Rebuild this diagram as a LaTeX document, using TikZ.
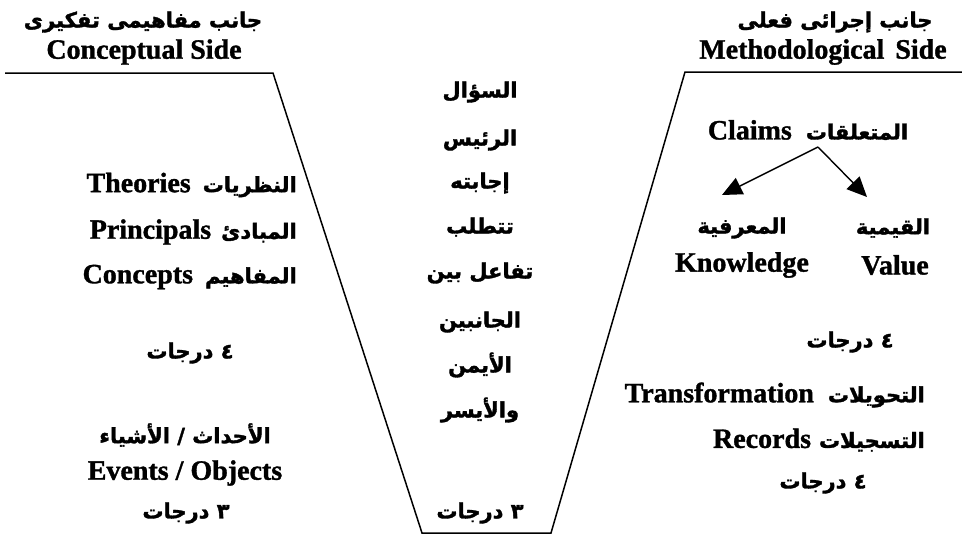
\documentclass[tikz,border=0pt]{standalone}
\usepackage{fontspec}
\setmainfont{Liberation Serif}[BoldFeatures={FakeBold=1.2}]
\newfontfamily\arabicfont[Script=Arabic, BoldFeatures={FakeBold=1.6}]{DejaVu Sans}
\TeXXeTstate=1
\usetikzlibrary{arrows.meta}
\newcommand{\AR}[1]{{\arabicfont\bfseries\fontsize{21}{24}\selectfont\beginR #1\endR}}
\newcommand{\EN}[1]{{\bfseries\fontsize{28}{30}\selectfont #1}}
\begin{document}
\begin{tikzpicture}[x=1pt,y=-1pt,
  txt/.style={inner sep=0pt},
  vline/.style={line width=1.5pt, line join=miter},
  arr/.style={line width=1.4pt, -{Triangle[length=20pt,width=18pt]}}]
\useasboundingbox (0,0) rectangle (962,538);
% V outline
\draw[vline] (5,73) -- (273,73) -- (422,533) -- (551,533) -- (685,72) -- (962,72);
% headers
\node[txt] (lh1) at (143,22) {\AR{جانب مفاهيمى تفكيرى}};
\node[txt] (lh2) at (144,52) {\EN{Conceptual Side}};
\node[txt] (rh1) at (835,22) {\AR{جانب إجرائى فعلى}};
\node[txt] (rh2) at (823,52) {\EN{Methodological\hspace{4pt} Side}};
% left side
\node[txt, anchor=east] (theo) at (297,185) {\EN{Theories}\hspace{12pt}\AR{النظريات}};
\node[txt, anchor=east] (prin) at (297,232) {\EN{Principals}\hspace{10pt}\AR{المبادئ}};
\node[txt, anchor=east] (conc) at (297,277) {\EN{Concepts}\hspace{12pt}\AR{المفاهيم}};
\node[txt] (ldeg1) at (190,353) {\AR{٤ درجات}};
\node[txt] (evar) at (185,435) {\AR{الأحداث / الأشياء}};
\node[txt] (even) at (185,473) {\EN{Events / Objects}};
\node[txt] (ldeg2) at (186,513) {\AR{٣ درجات}};
% centre column
\node[txt] (c1) at (480,92) {\AR{السؤال}};
\node[txt] (c2) at (480,140) {\AR{الرئيس}};
\node[txt] (c3) at (480,183) {\AR{إجابته}};
\node[txt] (c4) at (480,227) {\AR{تتطلب}};
\node[txt] (c5) at (480,273) {\AR{تفاعل بين}};
\node[txt] (c6) at (480,322) {\AR{الجانبين}};
\node[txt] (c7) at (480,365) {\AR{الأيمن}};
\node[txt] (c8) at (480,410) {\AR{والأيسر}};
\node[txt] (cdeg) at (480,513) {\AR{٣ درجات}};
% right side
\node[txt] (claims) at (808,130) {\EN{Claims}\hspace{14pt}\AR{المتعلقات}};
\coordinate (apex) at (818,147);
\coordinate (ktip) at (722,195);
\coordinate (vtip) at (867,197);
\draw[arr] (apex) -- (ktip);
\draw[arr] (apex) -- (vtip);
\node[txt] (knar) at (742,228) {\AR{المعرفية}};
\node[txt] (knen) at (742,265) {\EN{Knowledge}};
\node[txt] (vaar) at (893,228) {\AR{القيمية}};
\node[txt] (vaen) at (895,265) {\EN{Value}};
\node[txt] (rdeg1) at (850,342) {\AR{٤ درجات}};
\node[txt, anchor=east] (trans) at (925,395) {\EN{Transformation}\hspace{14pt}\AR{التحويلات}};
\node[txt, anchor=east] (reco) at (925,440) {\EN{Records}\hspace{8pt}\AR{التسجيلات}};
\node[txt] (rdeg2) at (823,483) {\AR{٤ درجات}};
\end{tikzpicture}
\end{document}
